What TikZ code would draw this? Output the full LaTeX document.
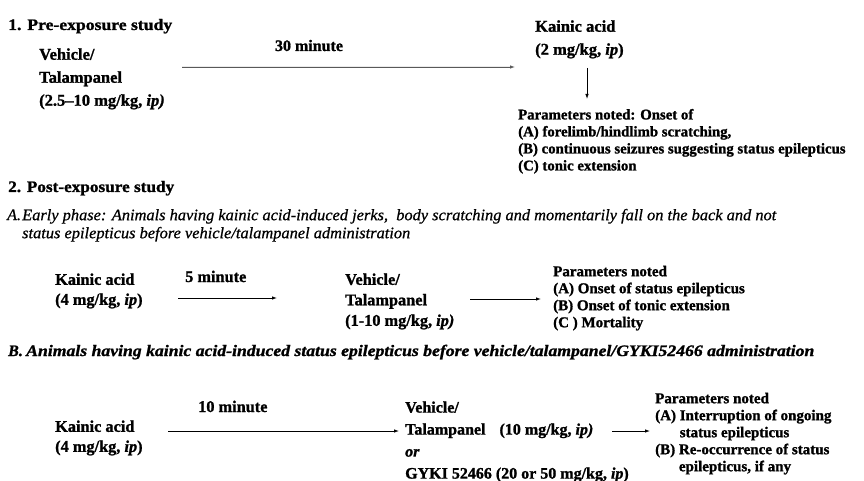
\documentclass[tikz,border=0pt]{standalone}
\usepackage{fontspec}
\usepackage{graphicx}
\setmainfont{Liberation Serif}[BoldFeatures={FakeBold=1.2},BoldItalicFeatures={FakeBold=1.2},ItalicFeatures={FakeBold=0.7}]
\usetikzlibrary{arrows.meta}
\begin{document}
\begin{tikzpicture}[x=1pt,y=-1pt,
  txt/.style={inner sep=0pt, align=left, anchor=north west, font=\bfseries\fontsize{16.3}{20}\selectfont},
  head/.style={inner sep=0pt, anchor=base west, font=\bfseries\fontsize{16}{18}\selectfont},
  plist/.style={inner sep=0pt, align=left, anchor=north west, font=\bfseries\fontsize{14.8}{17}\selectfont},
  lbl/.style={inner sep=0pt, anchor=base west, font=\bfseries\fontsize{16.3}{18}\selectfont},
  subA/.style={inner sep=0pt, anchor=north west, font=\itshape\fontsize{16}{18}\selectfont},
  subB/.style={inner sep=0pt, anchor=base west, font=\bfseries\itshape\fontsize{16}{18}\selectfont},
  arr/.style={-{Latex[length=5pt,width=3.5pt]}, line width=0.8pt},
]
\useasboundingbox[fill=white] (0,0) rectangle (864,481);

% ---------- 1. Pre-exposure study
\node[head] (h1) at (8,30) {\resizebox{164pt}{\height}{1. Pre-exposure study}};
\node[txt, font=\bfseries\fontsize{16.5}{23}\selectfont] (veh1) at (39,48.1) {Vehicle/\\Talampanel\\(2.5–10 mg/kg, \textit{ip)}};
\node[lbl, anchor=base, font=\bfseries\fontsize{16}{18}\selectfont] (t30) at (309,51) {30 minute};
\node[txt, font=\bfseries\fontsize{16.5}{23}\selectfont] (kain1) at (535,20.1) {Kainic acid\\(2 mg/kg, \textit{ip})};
\coordinate (a1s) at (182,67);
\coordinate (a1e) at (515,67);
\draw[arr, draw=black!65, fill=black!65] (a1s) -- (a1e);
\coordinate (d1s) at (587,68);
\coordinate (d1e) at (587,99);
\draw[arr] (d1s) -- (d1e);
\node[plist] (p1) at (518,108.8) {Parameters noted: Onset of\\(A) forelimb/hindlimb scratching,\\(B) continuous seizures suggesting status epilepticus\\(C) tonic extension};

% ---------- 2. Post-exposure study
\node[head] (h2) at (8,192) {\resizebox{166pt}{\height}{2. Post-exposure study}};
\node[subB, font=\itshape\fontsize{16}{18}\selectfont] (Alab) at (7,220) {A.};
\node[subA] (Atxt) at (22,207.4) {\resizebox{754pt}{\height}{\begin{tabular}{@{}l@{}}Early phase: Animals having kainic acid-induced jerks,\ \ body scratching and momentarily fall on the back and not\\status epilepticus before vehicle/talampanel administration\end{tabular}}};

\node[txt] (kainA) at (55,273.3) {Kainic acid\\(4 mg/kg, \textit{ip})};
\node[lbl] (t5) at (185,282) {5 minute};
\coordinate (aAs) at (178,298);
\coordinate (aAe) at (277,298);
\draw[arr] (aAs) -- (aAe);
\node[txt, font=\bfseries\fontsize{16.3}{20.5}\selectfont] (vehA) at (345,273.3) {Vehicle/\\Talampanel\\(1-10 mg/kg, \textit{ip)}};
\coordinate (bAs) at (470,299);
\coordinate (bAe) at (541,299);
\draw[arr] (bAs) -- (bAe);
\node[plist, font=\bfseries\fontsize{15}{17}\selectfont] (pA) at (553,265.6) {Parameters noted\\(A) Onset of status epilepticus\\(B) Onset of tonic extension\\(C ) Mortality};

\node[subB] (Blab) at (8,356) {B.};
\node[subB] (Btxt) at (26,356) {\resizebox{788pt}{\height}{Animals having kainic acid-induced status epilepticus before vehicle/talampanel/GYKI52466 administration}};

\node[lbl] (t10) at (198,412) {10 minute};
\node[txt] (kainB) at (55,420.3) {Kainic acid\\(4 mg/kg, \textit{ip})};
\coordinate (aBs) at (168,431);
\coordinate (aBe) at (399,431);
\draw[arr] (aBs) -- (aBe);
\node[txt, font=\bfseries\fontsize{16}{22}\selectfont] (vehB) at (405,401.3) {Vehicle/\\Talampanel\hspace{14pt}(10 mg/kg, \textit{ip)}\\\textit{or}\\GYKI 52466 (20 or 50 mg/kg, \textit{ip})};
\coordinate (bBs) at (612,431);
\coordinate (bBe) at (650,431);
\draw[arr] (bBs) -- (bBe);
\node[plist, font=\bfseries\fontsize{15}{17}\selectfont] (pB) at (655,392.6) {Parameters noted\\(A) Interruption of ongoing\\\phantom{(A)\ }status epilepticus\\(B) Re-occurrence of status\\\phantom{(B)\ }epilepticus, if any};
\end{tikzpicture}
\end{document}
